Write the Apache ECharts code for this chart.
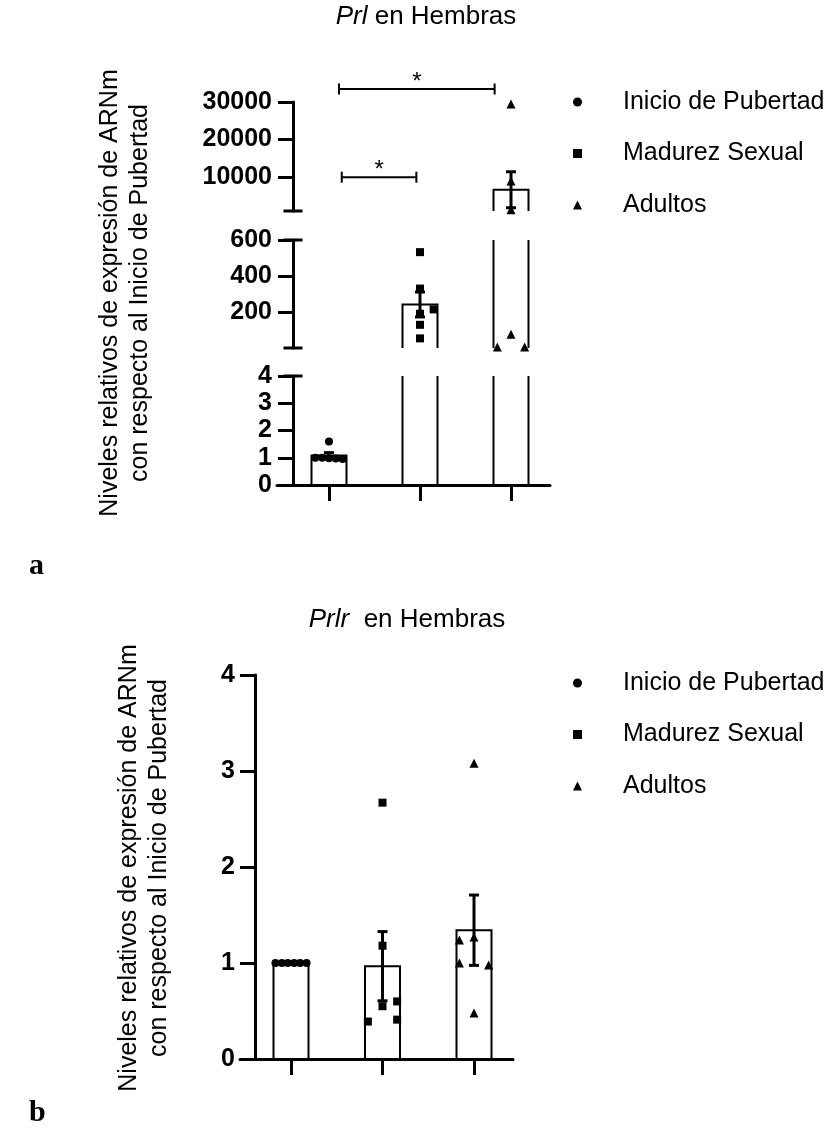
<!DOCTYPE html>
<html><head><meta charset="utf-8">
<script src="https://cdn.jsdelivr.net/npm/echarts@6/dist/echarts.min.js"></script>
<style>html,body{margin:0;padding:0;background:#fff}#c{width:829px;height:1130px}</style>
</head><body><div id="c"></div>
<script>
// ---------------- data ----------------
const groups = ['Inicio de Pubertad', 'Madurez Sexual', 'Adultos'];
// Prl (panel a)
const prlInicio  = [1.6, 1.0, 1.0, 0.98, 0.97, 0.95];
const prlMadurez = [533, 332, 217, 193, 132, 57];
const prlAdultos = [29500, 9000, 1300, 80, 10, 10];
// Prlr (panel b)
const prlrInicio  = [1, 1, 1, 1, 1, 1];
const prlrMadurez = [2.67, 1.18, 0.55, 0.6, 0.41, 0.39];
const prlrAdultos = [3.08, 1.27, 1.24, 1.0, 0.98, 0.48];
// broken-axis segments of panel a (top, middle, bottom) and their tick labels
const prlSegMin = [1000, 4, 0];
const prlSegMax = [30000, 600, 4];
const prlSegTicks = [[10000, 20000, 30000], [200, 400, 600], [0, 1, 2, 3, 4]];
const prlrTicks = [0, 1, 2, 3, 4];
const significance = [{ from: 0, to: 2, label: '*' }, { from: 0, to: 1, label: '*' }];

// ---------------- layout / style ----------------
const FONT = '"Liberation Sans", Arial, sans-serif';
const symbols = ['circle', 'rect', 'triangle'];
const symSizes = [8, 8, 9];
const JIT_A = [[0, -0.15, -0.075, 0, 0.075, 0.15], [0, 0, 0.15, 0, 0, 0], [0, 0, 0, 0, -0.15, 0.15]];
const JIT_B = [[-0.17, -0.1, -0.035, 0.035, 0.1, 0.17], [0, 0, 0, 0.16, 0.16, -0.16], [0, 0, -0.16, -0.16, 0.16, 0]];
const A = { left: 277, width: 273, tops: [102, 240, 376], heights: [109, 108, 109], xMin: -0.5714, xMax: 2.4286, shift: 16 };
const B = { left: 240, width: 273, top: 675, height: 384, xMin: -0.5574, xMax: 2.4262, shift: 15 };
const BRACKETS = [{ x0: 0.11, x1: 1.82, y: 33460 }, { x0: 0.14, x1: 0.96, y: 10000 }];
const BAR_HALF = 17.5, CAP_HALF = 5;

function mean(a) { return a.reduce((s, v) => s + v, 0) / a.length; }
function sem(a) { const m = mean(a); const v = a.reduce((s, x) => s + (x - m) * (x - m), 0) / (a.length - 1); return Math.sqrt(v / a.length); }

const prlData = [prlInicio, prlMadurez, prlAdultos];
const prlrData = [prlrInicio, prlrMadurez, prlrAdultos];

function barItem(segMin, segMax) {
  return function (params, api) {
    const x = api.value(0), v = api.value(1);
    if (v <= segMin) return null;
    const b = api.coord([x, segMin]);
    const t = api.coord([x, Math.min(v, segMax)]);
    const l = b[0] - BAR_HALF, r = b[0] + BAR_HALF;
    const style = { stroke: '#000', lineWidth: 2, fill: null };
    if (v <= segMax) {
      return { type: 'polyline', shape: { points: [[l, b[1]], [l, t[1]], [r, t[1]], [r, b[1]]] }, style };
    }
    return { type: 'group', children: [
      { type: 'line', shape: { x1: l, y1: b[1], x2: l, y2: t[1] }, style },
      { type: 'line', shape: { x1: r, y1: b[1], x2: r, y2: t[1] }, style }] };
  };
}
function errItem(segMin, segMax) {
  return function (params, api) {
    const x = api.value(0), m = api.value(1), e = api.value(2);
    const lo = m - e, hi = m + e;
    if (hi <= segMin || lo >= segMax) return null;
    const p0 = api.coord([x, Math.max(lo, segMin)]), p1 = api.coord([x, Math.min(hi, segMax)]);
    const style = { stroke: '#000', lineWidth: 3 };
    const ch = [{ type: 'line', shape: { x1: p0[0], y1: p0[1], x2: p1[0], y2: p1[1] }, style }];
    if (hi <= segMax) ch.push({ type: 'line', shape: { x1: p1[0] - CAP_HALF, y1: p1[1], x2: p1[0] + CAP_HALF, y2: p1[1] }, style });
    if (lo >= segMin) ch.push({ type: 'line', shape: { x1: p0[0] - CAP_HALF, y1: p0[1], x2: p0[0] + CAP_HALF, y2: p0[1] }, style });
    return { type: 'group', children: ch };
  };
}
function capItem(shift) {
  return function (params, api) {
    const p = api.coord([api.value(0), api.value(1)]);
    const cx = p[0] + shift;
    return { type: 'line', shape: { x1: cx - 9.5, y1: p[1], x2: cx + 9.5, y2: p[1] }, style: { stroke: '#000', lineWidth: 3 } };
  };
}
function bracketItem(params, api) {
  const L = BRACKETS[params.dataIndex];
  const p0 = api.coord([L.x0, L.y]), p1 = api.coord([L.x1, L.y]);
  const st = { stroke: '#000', lineWidth: 2 };
  return { type: 'group', children: [
    { type: 'line', shape: { x1: p0[0], y1: p0[1], x2: p1[0], y2: p1[1] }, style: st },
    { type: 'line', shape: { x1: p0[0], y1: p0[1] - 5.5, x2: p0[0], y2: p0[1] + 5.5 }, style: st },
    { type: 'line', shape: { x1: p1[0], y1: p1[1] - 5.5, x2: p1[0], y2: p1[1] + 5.5 }, style: st },
    { type: 'text', x: (p0[0] + p1[0]) / 2, y: p0[1] - 6.5,
      style: { text: significance[params.dataIndex].label, font: '24px ' + FONT, fill: '#000', align: 'center', verticalAlign: 'middle' } }
  ] };
}

const grids = [], xAxes = [], yAxes = [], series = [];
function yAxisCfg(gi, min, max, ticks, shift, margin) {
  return {
    gridIndex: gi, type: 'value', min, max, offset: -shift,
    axisLine: { show: true, onZero: false, lineStyle: { color: '#000', width: 3 } },
    axisTick: { show: true, length: 15, lineStyle: { color: '#000', width: 3 }, customValues: ticks },
    axisLabel: { customValues: ticks, formatter: v => String(v), fontSize: 25, fontWeight: 'bold', color: '#000', fontFamily: FONT, margin },
    splitLine: { show: false }
  };
}
function xAxisCfg(gi, min, max, show) {
  return {
    gridIndex: gi, type: 'value', min, max, show,
    axisLine: { show: true, onZero: false, lineStyle: { color: '#000', width: 3 } },
    axisTick: { show: true, length: 16, lineStyle: { color: '#000', width: 3 }, customValues: [0, 1, 2] },
    axisLabel: { show: false }, splitLine: { show: false }
  };
}
const pointStyle = { color: '#000', opacity: 1 };

// panel a: three stacked segments
const prlCaps = [[1000], [4, 600], [4]];
for (let s = 0; s < 3; s++) {
  grids.push({ left: A.left, top: A.tops[s], width: A.width, height: A.heights[s], containLabel: false, outerBoundsMode: 'none' });
  xAxes.push(xAxisCfg(s, A.xMin, A.xMax, s === 2));
  yAxes.push(yAxisCfg(s, prlSegMin[s], prlSegMax[s], prlSegTicks[s], A.shift, 21));
  const segMin = prlSegMin[s], segMax = prlSegMax[s];
  series.push({ type: 'custom', xAxisIndex: s, yAxisIndex: s, z: 2, silent: true, renderItem: barItem(segMin, segMax),
    data: prlData.map((d, i) => [i, mean(d)]) });
  series.push({ type: 'custom', xAxisIndex: s, yAxisIndex: s, z: 3, silent: true, renderItem: errItem(segMin, segMax),
    data: prlData.map((d, i) => [i, mean(d), sem(d)]) });
  series.push({ type: 'custom', xAxisIndex: s, yAxisIndex: s, z: 3, silent: true, clip: false, renderItem: capItem(A.shift),
    data: prlCaps[s].map(v => [A.xMin, v]) });
  prlData.forEach((vals, gi) => {
    const data = [];
    vals.forEach((v, k) => {
      const inSeg = s === 2 ? (v >= segMin && v <= segMax) : (v > segMin && v <= segMax);
      if (inSeg) data.push([gi + JIT_A[gi][k], v]);
    });
    series.push({ type: 'scatter', name: groups[gi], xAxisIndex: s, yAxisIndex: s, data, symbol: symbols[gi], symbolSize: symSizes[gi],
      itemStyle: pointStyle, z: 4, silent: true });
  });
}
series.push({ type: 'custom', xAxisIndex: 0, yAxisIndex: 0, z: 5, silent: true, clip: false, renderItem: bracketItem,
  data: significance.map(s => [s.from, s.to]) });

// panel b
grids.push({ left: B.left, top: B.top, width: B.width, height: B.height, containLabel: false, outerBoundsMode: 'none' });
xAxes.push(xAxisCfg(3, B.xMin, B.xMax, true));
yAxes.push(yAxisCfg(3, 0, 4, prlrTicks, B.shift, 20));
series.push({ type: 'custom', xAxisIndex: 3, yAxisIndex: 3, z: 2, silent: true, renderItem: barItem(0, 4),
  data: prlrData.map((d, i) => [i, mean(d)]) });
series.push({ type: 'custom', xAxisIndex: 3, yAxisIndex: 3, z: 3, silent: true, renderItem: errItem(0, 4),
  data: prlrData.map((d, i) => [i, mean(d), sem(d)]) });
prlrData.forEach((vals, gi) => {
  series.push({ type: 'scatter', name: groups[gi], xAxisIndex: 3, yAxisIndex: 3,
    data: vals.map((v, k) => [gi + JIT_B[gi][k], v]), symbol: symbols[gi], symbolSize: symSizes[gi],
    itemStyle: pointStyle, z: 4, silent: true });
});

function legendCfg(left, top) {
  return { orient: 'vertical', left, top, itemWidth: 9, itemHeight: 9, itemGap: 21.5, selectedMode: false, data: groups,
    itemStyle: { opacity: 1 },
    textStyle: { fontSize: 25, fontFamily: FONT, color: '#000', lineHeight: 30, padding: [0, 0, 0, 36] } };
}
function titleCfg(text, left, top) {
  return { text, left, top, textAlign: 'center', padding: 0,
    textStyle: { fontSize: 26, fontWeight: 'normal', color: '#000', fontFamily: FONT,
      rich: { i: { fontStyle: 'italic', fontSize: 26, fontFamily: FONT, color: '#000' } } } };
}
function vText(text, x, y) {
  return { type: 'text', x, y, rotation: Math.PI / 2,
    style: { text, font: '25px ' + FONT, fill: '#000', align: 'center', verticalAlign: 'middle', textAlign: 'center', textVerticalAlign: 'middle' } };
}
function panelLabel(text, x, y) {
  return { type: 'text', x, y,
    style: { text, font: 'bold 30px "Liberation Serif", "Times New Roman", serif', fill: '#000', align: 'left', verticalAlign: 'middle', textAlign: 'left', textVerticalAlign: 'middle' } };
}

const option = {
  animation: false,
  backgroundColor: '#fff',
  title: [titleCfg('{i|Prl} en Hembras', 426, 4), titleCfg('{i|Prlr}  en Hembras', 407, 607)],
  legend: [legendCfg(568, 82), legendCfg(568, 663)],
  grid: grids, xAxis: xAxes, yAxis: yAxes, series,
  graphic: [
    vText('Niveles relativos de expresión de ARNm', 110, 293),
    vText('con respecto al Inicio de Pubertad', 140, 293),
    vText('Niveles relativos de expresión de ARNm', 129, 868),
    vText('con respecto al Inicio de Pubertad', 159, 868),
    panelLabel('a', 29, 566),
    panelLabel('b', 29, 1113)
  ]
};
const chart = echarts.init(document.getElementById('c'), null, { renderer: 'canvas' });
chart.setOption(option);
</script></body></html>
